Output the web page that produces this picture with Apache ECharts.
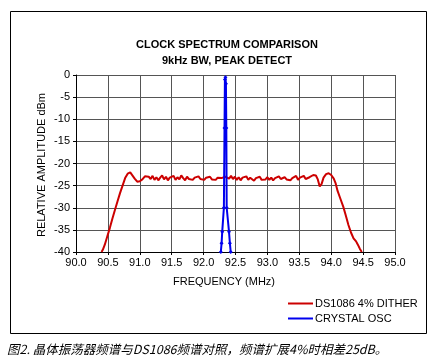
<!DOCTYPE html>
<html>
<head>
<meta charset="utf-8">
<script src="https://cdn.jsdelivr.net/npm/echarts@6/dist/echarts.min.js"></script>
<style>
html,body{margin:0;padding:0;background:#fff;}
#c{width:447px;height:359px;}
</style>
</head>
<body>
<div id="c"></div>
<script>
const titleLines = ['CLOCK SPECTRUM COMPARISON', '9kHz BW, PEAK DETECT'];
const xAxisName = 'FREQUENCY (MHz)';
const yAxisName = 'RELATIVE AMPLITUDE dBm';
const seriesNames = ['DS1086 4% DITHER', 'CRYSTAL OSC'];
const caption = '图2. 晶体振荡器频谱与DS1086频谱对照，频谱扩展4%时相差25dB。';

const ditherFreq = [
 90.40,90.42,90.45,90.49,90.53,90.57,90.61,90.65,90.69,90.73,90.77,90.81,90.85,90.88,90.92,90.96,91.00,91.04,91.08,91.11,
 91.14,91.17,91.20,91.23,91.26,91.29,91.32,91.35,91.38,91.41,91.44,91.47,91.50,91.53,91.56,91.59,91.62,91.65,91.68,91.71,
 91.74,91.77,91.80,91.83,91.86,91.89,91.92,91.95,91.98,92.01,92.04,92.07,92.10,92.13,92.16,92.19,92.22,92.25,92.28,92.31,
 92.34,92.37,92.40,92.43,92.46,92.49,92.52,92.55,92.58,92.61,92.64,92.67,92.70,92.73,92.76,92.79,92.82,92.85,92.88,92.91,
 92.94,92.97,93.00,93.03,93.06,93.09,93.12,93.15,93.18,93.21,93.24,93.27,93.30,93.33,93.36,93.39,93.42,93.45,93.48,93.51,
 93.54,93.57,93.60,93.63,93.66,93.69,93.72,93.76,93.79,93.82,93.85,93.88,93.92,93.96,94.00,94.04,94.07,94.10,94.14,94.19,
 94.23,94.27,94.31,94.35,94.39,94.42,94.45,94.48
];
const ditherDb = [
 -40.0,-39.5,-38.4,-36.5,-34.6,-32.5,-30.5,-28.6,-26.7,-25.0,-23.3,-22.3,-22.0,-22.3,-23.4,-24.1,-24.0,-23.6,-22.9,-22.6,
 -23.0,-23.5,-22.8,-23.7,-23.1,-23.8,-23.2,-22.7,-23.6,-23.0,-23.8,-23.2,-23.5,-22.8,-23.7,-23.1,-23.6,-22.7,-23.3,-23.8,
 -23.0,-23.5,-23.1,-23.7,-23.2,-23.6,-22.9,-23.5,-23.3,-23.7,-23.2,-23.5,-23.0,-23.6,-23.3,-23.7,-23.2,-23.5,-23.3,-23.1,
 -23.0,-22.7,-23.4,-22.8,-23.5,-23.0,-23.7,-23.1,-23.8,-23.2,-23.6,-22.9,-23.7,-23.2,-23.5,-23.9,-23.3,-23.6,-23.0,-23.7,
 -23.3,-23.6,-23.1,-23.7,-23.2,-23.8,-23.3,-23.6,-22.9,-23.5,-23.7,-23.1,-23.6,-23.2,-23.8,-23.3,-23.6,-22.8,-23.7,-23.2,
 -23.6,-22.8,-23.5,-23.7,-23.1,-23.0,-22.6,-22.7,-23.6,-25.2,-24.6,-23.2,-22.4,-22.2,-22.6,-23.4,-24.5,-26.2,-27.8,-29.8,
 -31.8,-33.9,-35.6,-36.9,-37.6,-38.4,-39.3,-40.0
];
const crystalFreq = [92.270,92.282,92.292,92.318,92.328,92.334,92.342,92.350,92.356,92.362,92.398,92.412,92.425];
const crystalDb   = [-40.0,-38.0,-35.4,-30.0,-12.0,-1.0,-0.5,-2.0,-12.0,-30.0,-35.4,-38.0,-40.0];

const xTicks = {min: 90, max: 95, step: 0.5};
const yTicks = {min: -40, max: 0, step: 5};

const pair = (xs, ys) => xs.map((x, i) => [x, ys[i]]);

const chart = echarts.init(document.getElementById('c'), null, {renderer: 'canvas'});
const FONT = 'Liberation Sans, Arial, sans-serif';
chart.setOption({
  animation: false,
  backgroundColor: '#fff',
  textStyle: {fontFamily: FONT},
  grid: {left: 76, right: 52, top: 75, bottom: 107, containLabel: false},
  xAxis: {
    type: 'value', min: xTicks.min, max: xTicks.max, interval: xTicks.step,
    axisLine: {show: true, onZero: false, lineStyle: {color: '#000', width: 1}},
    axisTick: {show: true, inside: false, length: 3, lineStyle: {color: '#000'}},
    axisLabel: {color: '#000', fontSize: 11, fontFamily: FONT, margin: 5, formatter: v => v.toFixed(1)},
    splitLine: {show: true, lineStyle: {color: '#555', width: 1}}
  },
  yAxis: {
    type: 'value', min: yTicks.min, max: yTicks.max, interval: yTicks.step,
    axisLine: {show: true, onZero: false, lineStyle: {color: '#000', width: 1}},
    axisTick: {show: true, inside: false, length: 3, lineStyle: {color: '#000'}},
    axisLabel: {color: '#000', fontSize: 11, fontFamily: FONT, margin: 6},
    splitLine: {show: true, lineStyle: {color: '#555', width: 1}}
  },
  legend: {
    orient: 'vertical', left: 283, top: 293,
    itemWidth: 25, itemHeight: 2, itemGap: 4, icon: 'rect',
    textStyle: {color: '#000', fontSize: 11, fontFamily: FONT, padding: [0,0,0,-3]},
    data: seriesNames
  },
  series: [
    {name: seriesNames[0], type: 'line', data: pair(ditherFreq, ditherDb), showSymbol: false, symbol: 'none',
     lineStyle: {color: '#cc0000', width: 2}, itemStyle: {color: '#cc0000'}, clip: true, z: 2},
    {name: seriesNames[1], type: 'line', data: pair(crystalFreq, crystalDb), symbol: 'diamond', symbolSize: 4, showSymbol: true,
     lineStyle: {color: '#0000ee', width: 2}, itemStyle: {color: '#0000ee'}, clip: true, z: 3}
  ],
  graphic: [
    {type: 'rect', shape: {x: 10.5, y: 11.5, width: 416, height: 322}, style: {fill: 'none', stroke: '#000', lineWidth: 1}, silent: true},
    {type: 'text', x: 227, y: 45, style: {text: titleLines[0], font: 'bold 11px ' + FONT, fill: '#000', textAlign: 'center', textVerticalAlign: 'middle'}},
    {type: 'text', x: 227, y: 61, style: {text: titleLines[1], font: 'bold 11px ' + FONT, fill: '#000', textAlign: 'center', textVerticalAlign: 'middle'}},
    {type: 'text', x: 224, y: 282, style: {text: xAxisName, font: '11px ' + FONT, fill: '#000', textAlign: 'center', textVerticalAlign: 'middle'}},
    {type: 'text', x: 42, y: 165, rotation: Math.PI / 2, style: {text: yAxisName, font: '11px ' + FONT, fill: '#000', textAlign: 'center', textVerticalAlign: 'middle'}},
    {type: 'text', x: 7, y: 349, style: {text: caption, font: 'italic 12.5px "Noto Sans CJK SC", sans-serif', fill: '#000', textAlign: 'left', textVerticalAlign: 'middle'}}
  ]
});
</script>
</body>
</html>
